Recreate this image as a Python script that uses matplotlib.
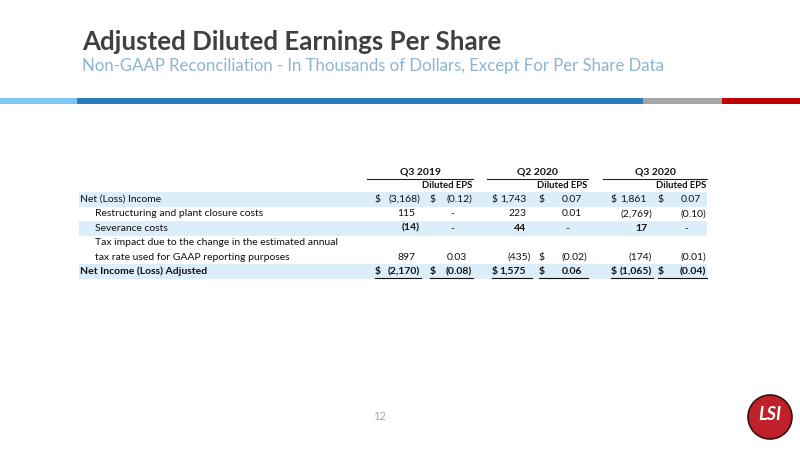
import matplotlib.pyplot as plt
from matplotlib.patches import Rectangle, Circle

# Table data (thousands of dollars / per share)
periods = ["Q3 2019", "Q2 2020", "Q3 2020"]
row_labels = ["Net (Loss) Income",
              "Restructuring and plant closure costs",
              "Severance costs",
              "Tax impact due to the change in the estimated annual\ntax rate used for GAAP reporting purposes",
              "Net Income (Loss) Adjusted"]
q3_2019_amt = [-3168, 115, -14, 897, -2170]
q3_2019_eps = [-0.12, 0, 0, 0.03, -0.08]
q2_2020_amt = [1743, 223, 44, -435, 1575]
q2_2020_eps = [0.07, 0.01, 0, -0.02, 0.06]
q3_2020_amt = [1861, -2769, 17, -174, -1065]
q3_2020_eps = [0.07, -0.10, 0, -0.01, -0.04]
# which rows show a "$" sign
amt_dollar = [True, False, False, False, True]
eps_dollar = [[True, False, False, False, True],
              [True, False, False, True, True],
              [True, False, False, False, True]]

amounts = [q3_2019_amt, q2_2020_amt, q3_2020_amt]
eps = [q3_2019_eps, q2_2020_eps, q3_2020_eps]

FONT = ["Lato", "DejaVu Sans"]
plt.rcParams['font.family'] = FONT
TXT = "#111111"


def fmt(v, dec):
    if v == 0:
        return "-"
    s = f"{abs(v):,.{dec}f}"
    return f"({s})" if v < 0 else s


fig = plt.figure(figsize=(8, 4.5), dpi=100)
ax = fig.add_axes([0, 0, 1, 1])
ax.set_xlim(0, 800)
ax.set_ylim(450, 0)
ax.axis("off")

# header
ax.text(82, 42, "Adjusted Diluted Earnings Per Share", fontsize=18.6, fontweight="bold",
        color="#404040", va="center", ha="left")
ax.text(82, 66, "Non-GAAP Reconciliation - In Thousands of Dollars, Except For Per Share Data",
        fontsize=12.1, color="#8DB3D3", va="center", ha="left")

# colour strip
for x0, x1, c in [(0, 77, "#7DC7F2"), (77, 643, "#2A7EBB"), (643, 722, "#A5A5A5"), (722, 800, "#C00000")]:
    ax.add_patch(Rectangle((x0, 98), x1 - x0, 6, color=c, lw=0))

# table geometry
row_top = 192.3
pitch = 14.4
line_of_row = [0, 1, 2, 4, 5]
shaded = [0, 2, 5]
col_dollar = [375, 492, 611]
col_amt = [420, 531, 652]
col_edollar = [430, 539, 658]
col_eps = [472, 587, 706]
col_left = [367, 487, 603]

for ln in shaded:
    ax.add_patch(Rectangle((79, row_top + ln * pitch), 628, pitch, color="#DCEEFA", lw=0))

fs = 7.5
for i, p in enumerate(periods):
    ax.text((col_left[i] + col_eps[i] + 1) / 2, 172.5, p, fontsize=fs, fontweight="bold",
            ha="center", va="center", color=TXT)
    ax.plot([col_left[i], col_eps[i] + 1], [178.5, 178.5], color="#222222", lw=0.8)
    ax.text(col_eps[i], 186, "Diluted EPS", fontsize=6.8, fontweight="bold",
            ha="right", va="center", color=TXT)


def cell(x, y, v, dec, bold):
    s = fmt(v, dec)
    w = "bold" if bold else "normal"
    if s == "-":
        ax.text(x - 18, y, s, fontsize=fs, ha="right", va="center", fontweight=w, color=TXT)
    elif s.startswith("("):
        ax.text(x, y, s, fontsize=fs, ha="right", va="center", fontweight=w, color=TXT)
    else:
        ax.text(x - 5, y, s, fontsize=fs, ha="right", va="center", fontweight=w, color=TXT)


for r, label in enumerate(row_labels):
    ln = line_of_row[r]
    yc = row_top + ln * pitch + pitch / 2
    last = r == len(row_labels) - 1
    bold_vals = last or r == 2
    indent = 80 if r in (0, len(row_labels) - 1) else 95
    lines = label.split("\n")
    for k, t in enumerate(lines):
        ax.text(indent, yc - (len(lines) - 1 - k) * pitch, t, fontsize=fs, ha="left", va="center",
                fontweight="bold" if last else "normal", color=TXT)
    for i in range(3):
        w = "bold" if last else "normal"
        if amt_dollar[r]:
            ax.text(col_dollar[i], yc, "$", fontsize=fs, ha="left", va="center", fontweight=w, color=TXT)
        if eps_dollar[i][r]:
            ax.text(col_edollar[i], yc, "$", fontsize=fs, ha="left", va="center", fontweight=w, color=TXT)
        cell(col_amt[i], yc, amounts[i][r], 0, bold_vals)
        cell(col_eps[i], yc, eps[i][r], 2, last)
        if last:
            yb = row_top + (ln + 1) * pitch - 1
            ax.plot([col_dollar[i], col_amt[i] + 1], [yb, yb], color=TXT, lw=0.8)
            ax.plot([col_edollar[i], col_eps[i] + 1], [yb, yb], color=TXT, lw=0.8)

# page number and logo
ax.text(380, 417, "12", fontsize=8, color="#A6A6A6", ha="center", va="center")
ax.add_patch(Circle((770, 417), 22, facecolor="#C0202A", edgecolor="#3a1010", lw=1.2))
ax.text(770, 415, "LSI", fontsize=13, fontweight="bold", style="italic", color="white",
        ha="center", va="center")

fig.savefig("out.png", dpi=100)
